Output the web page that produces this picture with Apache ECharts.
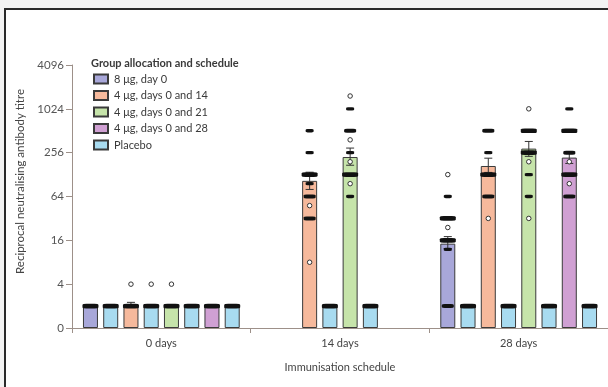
<!DOCTYPE html>
<html>
<head>
<meta charset="utf-8">
<script src="https://cdn.jsdelivr.net/npm/echarts@6/dist/echarts.min.js"></script>
<style>
  html, body { margin: 0; padding: 0; background: #f3f3f3; }
  #chart { width: 608px; height: 387px; }
</style>
</head>
<body>
<div id="chart"></div>
<script>
// ---------- data ----------
const categories = ['0 days', '14 days', '28 days'];
const yTickLabels = ['0', '4', '16', '64', '256', '1024', '4096'];
const groupNames = ['8 μg, day 0', '4 μg, days 0 and 14', '4 μg, days 0 and 21', '4 μg, days 0 and 28', 'Placebo'];

// geometric mean titres per bar (slot order: 8µg, placebo, d0+14, placebo, d0+21, placebo, d0+28, placebo)
const gmt8ug   = [2, null, 14.4];
const placeboA = [2, null, 2];
const gmt14    = [2.1, 105, 168];
const placeboB = [2, 2, 2];
const gmt21    = [2, 223, 291];
const placeboC = [2, 2, 2];
const gmt28    = [2, null, 219];
const placeboD = [2, null, 2];

// confidence intervals [categoryIndex, lower, upper]
const ci8ug = [[2, 12.3, 18]];
const ci14  = [[0, 2, 2.25], [1, 80, 138], [2, 137, 215]];
const ci21  = [[1, 172, 296], [2, 228, 365]];
const ci28  = [[2, 182, 262]];

// individual titres: stacked (filled) points [categoryIndex, titre, count] and single points [categoryIndex, titre]
const stack8ug = [[0, 2, 3], [2, 64, 1], [2, 32, 3], [2, 16, 3], [2, 12, 1], [2, 2, 2]];
const single8ug = [[2, 128], [2, 24]];
const stackPlaceboA = [[0, 2, 3], [2, 2, 3]];
const stack14 = [[0, 2, 3], [1, 512, 1], [1, 256, 1], [1, 128, 3], [1, 96, 1], [1, 64, 2], [1, 32, 2],
                 [2, 512, 2], [2, 256, 1], [2, 128, 3], [2, 64, 2]];
const single14 = [[0, 4], [1, 48], [1, 8], [2, 32]];
const stackPlaceboB = [[0, 2, 3], [1, 2, 3], [2, 2, 3]];
const singlePlaceboB = [[0, 4]];
const stack21 = [[0, 2, 3], [1, 1024, 1], [1, 512, 2], [1, 256, 1], [1, 128, 3], [1, 64, 1],
                 [2, 512, 3], [2, 256, 3], [2, 128, 1], [2, 64, 1]];
const single21 = [[0, 4], [1, 1536], [1, 384], [1, 192], [1, 96], [2, 1024], [2, 192], [2, 32]];
const stackPlaceboC = [[0, 2, 3], [1, 2, 3], [2, 2, 3]];
const stack28 = [[0, 2, 3], [2, 1024, 1], [2, 512, 3], [2, 256, 2], [2, 128, 3], [2, 64, 2]];
const single28 = [[2, 192], [2, 96]];
const stackPlaceboD = [[0, 2, 3], [2, 2, 3]];

// ---------- styling ----------
const colors = { g8: '#a8a7d9', g14: '#f6b99c', g21: '#c6e4aa', g28: '#d0a0d3', placebo: '#a8dbf0' };
const FONT = 'Lato';
const BAR_W = 15;
const BAR_GAP = 0.35;
const PITCH = BAR_W * (1 + BAR_GAP);
const offsetOf = s => (s - 3.5) * PITCH;

const slots = [
  { name: groupNames[0], color: colors.g8, bars: gmt8ug, ci: ci8ug, stack: stack8ug, single: single8ug },
  { name: groupNames[4], color: colors.placebo, bars: placeboA, ci: [], stack: stackPlaceboA, single: [] },
  { name: groupNames[1], color: colors.g14, bars: gmt14, ci: ci14, stack: stack14, single: single14 },
  { name: groupNames[4], color: colors.placebo, bars: placeboB, ci: [], stack: stackPlaceboB, single: singlePlaceboB },
  { name: groupNames[2], color: colors.g21, bars: gmt21, ci: ci21, stack: stack21, single: single21 },
  { name: groupNames[4], color: colors.placebo, bars: placeboC, ci: [], stack: stackPlaceboC, single: [] },
  { name: groupNames[3], color: colors.g28, bars: gmt28, ci: ci28, stack: stack28, single: single28 },
  { name: groupNames[4], color: colors.placebo, bars: placeboD, ci: [], stack: stackPlaceboD, single: [] }
];

const series = [];
slots.forEach((s, i) => {
  series.push({
    type: 'bar', name: s.name, data: s.bars, barWidth: BAR_W, barGap: (BAR_GAP * 100) + '%',
    itemStyle: { color: s.color, borderColor: '#3a3a3a', borderWidth: 1 },
    emphasis: { disabled: true }, z: 2
  });
});
slots.forEach((s, i) => {
  const off = offsetOf(i);
  if (s.ci.length) {
    series.push({
      type: 'custom', data: s.ci, encode: { x: 0, y: [1, 2] }, z: 4, silent: true,
      renderItem: (params, api) => {
        const lo = api.coord([api.value(0), api.value(1)]);
        const hi = api.coord([api.value(0), api.value(2)]);
        const x = lo[0] + off;
        const st = { stroke: '#333', lineWidth: 1 };
        return { type: 'group', children: [
          { type: 'line', shape: { x1: x, y1: lo[1], x2: x, y2: hi[1] }, style: st },
          { type: 'line', shape: { x1: x - 4, y1: lo[1], x2: x + 4, y2: lo[1] }, style: st },
          { type: 'line', shape: { x1: x - 4, y1: hi[1], x2: x + 4, y2: hi[1] }, style: st }
        ] };
      }
    });
  }
  series.push({
    type: 'scatter', data: s.stack, symbol: 'roundRect', z: 5, silent: true,
    symbolSize: d => [4 + 4 * d[2], 2.6 + 0.7 * d[2]],
    symbolOffset: [off, 0],
    itemStyle: { color: '#111', opacity: 1 }
  });
  if (s.single.length) {
    series.push({
      type: 'scatter', data: s.single, symbol: 'circle', symbolSize: 4.5, z: 6, silent: true,
      symbolOffset: [off, 0],
      itemStyle: { color: '#fff', borderColor: '#333', borderWidth: 1, opacity: 1 }
    });
  }
});

const axisColor = '#9d9089';
const chart = echarts.init(document.getElementById('chart'), null, { renderer: 'canvas' });
chart.setOption({
  backgroundColor: '#f3f3f3',
  animation: false,
  textStyle: { fontFamily: FONT },
  graphic: [{
    type: 'rect', z: -10, silent: true,
    shape: { x: 5, y: 9, width: 700, height: 500 },
    style: { fill: '#ffffff', stroke: '#2a2a2a', lineWidth: 2 }
  }],
  title: {
    text: 'Group allocation and schedule', left: 86, top: 53,
    textStyle: { fontFamily: FONT, fontSize: 11, fontWeight: 'bold', color: '#3a3a3a' }
  },
  legend: {
    data: groupNames, orient: 'vertical', left: 88, top: 68, itemWidth: 14, itemHeight: 9, itemGap: 4.5,
    icon: 'rect', selectedMode: false,
    textStyle: { fontFamily: FONT, fontSize: 11, color: '#3a3a3a', lineHeight: 12, padding: [0, 0, 0, 1] }
  },
  grid: { left: 72, right: -6, top: 65, bottom: 59, containLabel: false },
  xAxis: {
    type: 'category', data: categories,
    name: 'Immunisation schedule', nameLocation: 'middle', nameGap: 34,
    nameTextStyle: { fontFamily: FONT, fontSize: 11, color: '#444' },
    axisLine: { lineStyle: { color: axisColor, width: 1 } },
    axisTick: { show: true, length: 5, lineStyle: { color: axisColor } },
    axisLabel: { fontFamily: FONT, fontSize: 11, color: '#444', margin: 10 }
  },
  yAxis: {
    type: 'log', logBase: 2, min: 1, max: 4096, interval: 2,
    name: 'Reciprocal neutralising antibody titre', nameLocation: 'middle', nameGap: 46,
    nameTextStyle: { fontFamily: FONT, fontSize: 11.5, color: '#444', padding: [0, 0, 0, 30] },
    axisLine: { show: true, lineStyle: { color: axisColor, width: 1 } },
    axisTick: { show: true, length: 6, lineStyle: { color: axisColor } },
    splitLine: { show: false },
    axisLabel: {
      fontFamily: FONT, fontSize: 11.5, color: '#555', margin: 8,
      formatter: v => yTickLabels[Math.round(Math.log2(v) / 2)]
    }
  },
  series: series
});
</script>
</body>
</html>
